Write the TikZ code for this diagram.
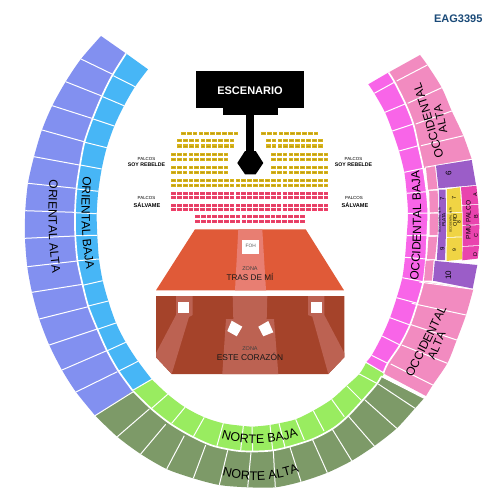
\documentclass[tikz,border=0pt]{standalone}
\usepackage{fontspec}
\setmainfont{Liberation Sans}
\usetikzlibrary{decorations.text}
\definecolor{altaL}{HTML}{8290F0}
\definecolor{bajaL}{HTML}{47B6F6}
\definecolor{altaN}{HTML}{7D9A68}
\definecolor{bajaN}{HTML}{99EC60}
\definecolor{bajaR}{HTML}{F865E8}
\definecolor{altaR}{HTML}{F28BC0}
\definecolor{purp}{HTML}{9B5DC8}
\definecolor{yell}{HTML}{F0D444}
\definecolor{mage}{HTML}{E944AE}
\definecolor{gold}{HTML}{D8B41A}
\definecolor{goldd}{HTML}{B89A20}
\definecolor{rosa}{HTML}{F03E68}
\definecolor{rosad}{HTML}{CF4A66}
\definecolor{tras}{HTML}{E05A38}
\definecolor{trasl}{HTML}{E87E72}
\definecolor{este}{HTML}{A5432A}
\definecolor{estel}{HTML}{BC6252}
\definecolor{navy}{HTML}{1A4A78}
\tikzset{
  sepline/.style={draw=white,line width=1pt},
  bandsep/.style={draw=white,line width=1.7pt},
  curvelbl/.style={decorate,decoration={text along path,text align=center,text={#1}}},
  tinylbl/.style={inner sep=0pt,rotate=90,text=black},
}
\newcommand{\seatrow}[5]{% x0 x1 n y col
  \pgfmathsetmacro{\pitch}{(#2-#1)/#3}
  \foreach \k in {1,...,#3}{
    \pgfmathsetmacro{\xa}{#1+(\k-1)*\pitch}
    \fill[#5] (\xa,#4-1.6) rectangle ++(\pitch-1.1,3.2);
    \fill[#5d] (\xa+1,#4-0.5) rectangle ++(\pitch-3.1,1);
  }
}
\begin{document}
\begin{tikzpicture}[x=1pt,y=-1pt]
\useasboundingbox (0,0) rectangle (500,500);
\fill[white] (0,0) rectangle (500,500);

% ---- left bowl
\fill[altaL] plot[smooth] coordinates {(101,36) (81,59) (65.7,81.7) (52.3,105.7) (42,130) (34,156.7) (28,183.3) (25.3,210.7) (25,238.3) (27.3,266.7) (32,292.3) (39.3,319) (49.3,345) (62,370) (76,392) (95.3,415.7)}
  -- plot[smooth] coordinates {(133,391) (118.5,371) (107,350.7) (97.3,329) (88.3,306.5) (82.7,285) (77.5,261) (75.3,236) (75,212.5) (76.5,188.5) (80,165) (84.5,142) (92.5,118.7) (102,96) (112.5,75) (126,53.5)} -- cycle;
\fill[bajaL] plot[smooth] coordinates {(126,53.5) (112.5,75) (102,96) (92.5,118.7) (84.5,142) (80,165) (76.5,188.5) (75,212.5) (75.3,236) (77.5,261) (82.7,285) (88.3,306.5) (97.3,329) (107,350.7) (118.5,371) (133,391)}
  -- plot[smooth] coordinates {(151.7,379.3) (138,361.3) (125.7,342.3) (116,323) (108.3,301) (102.7,280.7) (99,259) (97.3,235.3) (96.7,213.7) (98.3,191.3) (101.7,169) (106.7,147.7) (114.3,126) (124,105.7) (135,86.7) (148,69.3)} -- cycle;
\foreach \xa/\ya/\xb/\yb in {81/59/112/74,65.7/81.7/101/95.7,52.3/105.7/91.7/118.3,42/130/84/141.7,34/156.7/79.3/165,28/183.3/75.7/188.3,25.3/210.7/74.3/212.3,25/238.3/75/236,27.3/266.7/77.3/261,32/292.3/82.7/284.3,39.3/319/88.3/306.7,49.3/345/97.3/329,62/370/106.7/350.7,76/392/117.3/371.7}
  \draw[sepline] (\xa,\ya) -- (\xb,\yb);
\foreach \xa/\ya/\xb/\yb in {113.3/75.7/135/86.7,102.7/96.7/124/105.7,93.3/119/114.3/126,85/142.3/106.7/147.7,80.3/165/101.7/169,77/189/98.3/191.3,75.3/212.7/96.7/213.7,75.7/235.7/97.3/235.3,77.7/260.7/99/259,82.7/285.3/102.7/280.7,88.3/306/108.3/301,97.3/329.3/116/323,107.3/350.7/125.7/342.3,119.3/370.7/138/361.3}
  \draw[sepline] (\xa,\ya) -- (\xb,\yb);
\draw[bandsep] plot[smooth] coordinates {(126,53.5) (112.5,75) (102,96) (92.5,118.7) (84.5,142) (80,165) (76.5,188.5) (75,212.5) (75.3,236) (77.5,261) (82.7,285) (88.3,306.5) (97.3,329) (107,350.7) (118.5,371) (133,391)};

% ---- north bowl
\fill[altaN] plot[smooth] coordinates {(95.3,415.7) (117.3,436.7) (140.7,454) (166.7,469) (193.3,478.3) (219.3,485) (247.7,487.3) (275.3,487.3) (301,481.7) (327.3,472.7) (351.7,460.7) (374.3,446) (396.7,428.3) (415,408.3) (424,398.3)}
  -- plot[smooth] coordinates {(381,377) (376,385) (362,401) (347,417) (333,428.5) (313,439) (290,446.5) (272,450.5) (252,451.5) (235,450.5) (212,445.5) (191,436) (170,423.5) (151,408.5) (133,391)} -- cycle;
\fill[bajaN] plot[smooth] coordinates {(133,391) (151,408.5) (170,423.5) (191,436) (212,445.5) (235,450.5) (252,451.5) (272,450.5) (290,446.5) (313,439) (333,428.5) (347,417) (362,401) (376,385) (384,373.5)}
  -- plot[smooth] coordinates {(366,363) (359.3,374) (346.7,385.7) (331.7,399.3) (313.3,410.7) (295.7,419.3) (279,423.3) (270,425) (252,426.7) (243.3,426) (223.3,423.3) (204.3,417.3) (185,407.3) (167.7,394.3) (151.7,379.3)} -- cycle;
\foreach \xa/\ya/\xb/\yb in {133.3/391.7/95/415.7,149.3/409/117.3/436.7,165.7/424.3/140.7/454,184.3/435.7/166.7/469,205.7/445/193.3/478.3,227.7/450.3/219.3/485,251/452.3/247.7/487.3,273.3/450/275.3/487.3,290/447.3/301/481.7,312.7/440/327.3/472.7,331.7/428.3/351.7/460.7,348.3/416/374.3/446,365/400/396.7/428.3,378.3/384/415/408.3,380.7/376/424/398.3}
  \draw[sepline] (\xa,\ya) -- (\xb,\yb);
\foreach \xa/\ya/\xb/\yb in {151.7/408.3/167.7/394.3,171.7/423.3/185/407.3,193.3/436.7/204.3/417.3,216.7/446.7/223.3/423.3,240.7/450/243.3/426,252.7/451/252/426.7,272.7/450/270/425,285/447.3/279/423.3,304.3/440/295.7/419.3,324/431/313.3/410.7,344.3/416.7/331.7/399.3,361/400/346.7/385.7,376.7/383.3/359.3/374}
  \draw[sepline] (\xa,\ya) -- (\xb,\yb);
\draw[bandsep] plot[smooth] coordinates {(133,391) (151,408.5) (170,423.5) (191,436) (212,445.5) (235,450.5) (252,451.5) (272,450.5) (290,446.5) (313,439) (333,428.5) (347,417) (362,401) (376,385) (381,377)};
\draw[sepline] (133.3,390) -- (151.7,379.3);

% ---- right bowl
\fill[bajaR] plot[smooth] coordinates {(368.3,84.3) (374.3,93.3) (385,112.3) (392.3,131) (399,151) (404.3,172.3) (406.7,193.3) (408,214) (406.7,235.7) (405,257.3) (402.3,277.7) (396.7,297.7) (390,317.7) (382,336) (371.7,355.3) (366,362.3)}
  -- plot[smooth] coordinates {(383.3,373.3) (387.7,363.3) (400,345) (410,325) (417.3,303.3) (423.3,281.7) (426,259) (427.3,235) (428.3,213) (426.7,191.7) (423.3,168.3) (418.3,145.7) (413.3,124) (405.5,104) (394.5,82) (388.5,72.5)} -- cycle;
\fill[altaR] plot[smooth] coordinates {(388.5,72.5) (394.5,82) (405.5,104) (413.3,124) (418.3,145.7) (423.3,168.3)}
  -- plot[smooth] coordinates {(471.7,159.3) (463.3,135.7) (451.7,111) (441.7,87.7) (427.3,65) (420,55)} -- cycle;
\fill[altaR] plot[smooth] coordinates {(423.3,281.7) (417.3,303.3) (410,325) (400,345) (387.7,363.3) (383.3,373.3)}
  -- plot[smooth] coordinates {(426,396) (432.7,385) (447.3,363.3) (456.7,340) (466,315) (473.3,289.3)} -- cycle;
\foreach \xa/\ya/\xb/\yb in {374.3/93.3/394.3/82.3,385/112.3/405/104,392.3/131/413.3/124,399/151/418.3/145.7,404.3/172.3/423.3/168.3,406.7/193.3/426.7/191.7,408/213.5/428.3/213,406.7/235.7/427.3/235,405/257.3/426/259,402.3/277.7/423.3/281.7,396.7/297.7/417.3/303.3,390/317.7/410/325,382/336/400/345,371.7/355.3/387.7/363.3}
  \draw[sepline] (\xa,\ya) -- (\xb,\yb);
\foreach \xa/\ya/\xb/\yb in {396.7/81/427.3/65,407.7/103.3/441.7/87.7,415.7/124/451.7/111,421/145.7/463.3/135.7,425/167.3/471.7/159.3,419.3/282/473.3/289.3,411.7/303.3/466/315,410/324.3/456.7/340,401.7/345/447.3/363.3,390.7/364/432.7/385}
  \draw[sepline] (\xa,\ya) -- (\xb,\yb);
\draw[bandsep] plot[smooth] coordinates {(388.5,72.5) (394.5,82) (405.5,104) (413.3,124) (418.3,145.7) (423.3,168.3) (426.7,191.7) (428.3,213) (427.3,235) (426,259) (423.3,281.7) (417.3,303.3) (410,325) (400,345) (387.7,363.3) (383.3,373.3)};
\draw[sepline] (366,362.3) -- (384.5,373.3);

% ---- west block, sections
\fill[altaR] (426,168) -- (435,166.3) -- (437.5,188.8) -- (428.2,189.7) -- cycle;
\fill[altaR] (429.2,191) -- (437.7,190.5) -- (438,212) -- (429.8,212.5) -- cycle;
\fill[altaR] (429.8,213.8) -- (438,213.5) -- (437.7,235) -- (429.6,235) -- cycle;
\fill[altaR] (428.5,237) -- (437.3,236.7) -- (435,259) -- (427,259) -- cycle;
\fill[altaR] (425.8,260.8) -- (433.6,260.2) -- (432,280.7) -- (424,280.7) -- cycle;
\fill[purp] (436,165.7) -- (471.7,160) -- (476,185) -- (438.5,188.3) -- cycle;
\fill[purp] (434.8,260.9) -- (477.3,265) -- (472.7,288.5) -- (433,280.7) -- cycle;
\fill[purp] (438.8,189.6) -- (445.6,189.6) -- (446.2,226) -- (445,260) -- (436.8,260) -- (439,226) -- cycle;
\fill[yell] (446.8,189.3) -- (460,187.3) -- (461.6,212) -- (447.2,212.6) -- cycle;
\fill[yell] (447.2,213.4) -- (461.8,212.8) -- (461.8,236.5) -- (446.9,237) -- cycle;
\fill[yell] (446.9,237.8) -- (461.8,237.3) -- (462.3,259.3) -- (446.5,261) -- cycle;
\fill[mage] (461,187.3) -- (476.4,185.8) -- (478.3,204) -- (462.3,205) -- cycle;
\fill[mage] (462.4,205.8) -- (478.3,204.8) -- (479.3,224.3) -- (462.7,225) -- cycle;
\fill[mage] (462.7,225.8) -- (479.3,225.1) -- (479,245.2) -- (462.6,246) -- cycle;
\fill[mage] (462.6,246.8) -- (479,246) -- (477.7,258.6) -- (462.3,260.3) -- cycle;

\node[tinylbl,font=\fontsize{8}{8}\selectfont] (s6) at (448.5,173) {6};
\node[tinylbl,font=\fontsize{8}{8}\selectfont] (s10) at (448.3,275) {10};
\node[tinylbl,font=\fontsize{6}{6}\selectfont] (s7a) at (442.3,199.3) {7};
\node[tinylbl,font=\fontsize{6}{6}\selectfont] (s9a) at (442.3,249.3) {9};
\node[tinylbl,font=\fontsize{2.8}{3}\selectfont] (spt) at (439.7,220) {OCCIDENTAL ALTA};
\node[tinylbl,font=\fontsize{4.6}{5}\selectfont] (spl) at (443.7,220) {PLATA};
\node[tinylbl,font=\fontsize{5.5}{6}\selectfont] (s7b) at (454,197.7) {7};
\node[tinylbl,font=\fontsize{5}{5}\selectfont] (s9b) at (454.3,250) {9};
\node[tinylbl,font=\fontsize{2.8}{3}\selectfont] (sot) at (450.7,220) {OCCIDENTAL ALTA};
\node[tinylbl,font=\fontsize{5.5}{6}\selectfont] (sor) at (455,220) {ORO};
\node[tinylbl,font=\fontsize{5}{5}\selectfont] (s8) at (459,222) {8};
\node[tinylbl,font=\fontsize{6.6}{7}\selectfont] (pmu) at (468.3,220) {PMU PALCO};
\node[tinylbl,font=\fontsize{5.5}{6}\selectfont] (pa) at (475.3,195) {A};
\node[tinylbl,font=\fontsize{5.5}{6}\selectfont] (pb) at (476,217) {B};
\node[tinylbl,font=\fontsize{5.5}{6}\selectfont] (pc) at (476,236) {C};
\node[tinylbl,font=\fontsize{5.5}{6}\selectfont] (pd) at (475.3,255) {D};

% ---- stage
\fill[black] (196,70.7) rectangle (304.3,107.7);
\fill[black] (222.7,107.7) rectangle (277.7,115);
\fill[black] (245.7,115) rectangle (254.3,152);
\fill[black] (237.3,163) -- (245,151) -- (255.7,151) -- (263.3,163) -- (255.7,174.3) -- (245,174.3) -- cycle;
\node[text=white,font=\bfseries\fontsize{11}{12}\selectfont,inner sep=0pt] (esc) at (250,90.5) {ESCENARIO};

% ---- seats
\seatrow{181}{239.5}{10}{133.3}{gold}
\seatrow{261}{319.5}{10}{133.3}{gold}
\seatrow{177.3}{235.5}{10}{140.7}{gold}
\seatrow{177.3}{235.5}{10}{146}{gold}
\seatrow{266}{323.8}{10}{140.7}{gold}
\seatrow{266}{323.8}{10}{146}{gold}
\seatrow{171}{229.5}{10}{154.7}{gold}
\seatrow{171}{229.5}{10}{159.3}{gold}
\seatrow{171}{229.5}{10}{167.3}{gold}
\seatrow{171}{229.5}{10}{172.7}{gold}
\seatrow{271}{329.5}{10}{154.7}{gold}
\seatrow{271}{329.5}{10}{159.3}{gold}
\seatrow{271}{329.5}{10}{167.3}{gold}
\seatrow{271}{329.5}{10}{172.7}{gold}
\seatrow{171}{329.5}{27}{180.7}{gold}
\seatrow{171}{329.5}{27}{185.3}{gold}
\seatrow{171}{329.5}{27}{193.3}{rosa}
\seatrow{171}{329.5}{27}{197.8}{rosa}
\seatrow{171}{329.5}{27}{205.3}{rosa}
\seatrow{171}{329.5}{27}{209.7}{rosa}
\seatrow{195}{305.6}{19}{216.7}{rosa}
\seatrow{195}{305.6}{19}{221.3}{rosa}

\node[font=\fontsize{4.4}{5}\selectfont,inner sep=0pt] (pl1) at (146.5,159) {PALCOS};
\node[font=\bfseries\fontsize{5.2}{6}\selectfont,inner sep=0pt] (pl2) at (146.5,164.7) {SOY REBELDE};
\node[font=\fontsize{4.4}{5}\selectfont,inner sep=0pt] (pl3) at (146.5,198) {PALCOS};
\node[font=\bfseries\fontsize{5.6}{6}\selectfont,inner sep=0pt] (pl4) at (147,205) {SÁLVAME};
\node[font=\fontsize{4.4}{5}\selectfont,inner sep=0pt] (pr1) at (353.5,159) {PALCOS};
\node[font=\bfseries\fontsize{5.2}{6}\selectfont,inner sep=0pt] (pr2) at (353.5,164.7) {SOY REBELDE};
\node[font=\fontsize{4.4}{5}\selectfont,inner sep=0pt] (pr3) at (354,198) {PALCOS};
\node[font=\bfseries\fontsize{5.6}{6}\selectfont,inner sep=0pt] (pr4) at (355,205) {SÁLVAME};

% ---- zona tras de mi
\fill[tras] (195,229.3) -- (305.7,229.3) -- (344,290.3) -- (156,290.3) -- cycle;
\fill[trasl] (238.3,229.3) -- (262.3,229.3) -- (266,290.3) -- (235,290.3) -- cycle;
\fill[white] (242.3,240) rectangle (259,254);
\node[text=black!65,font=\fontsize{4.8}{5}\selectfont,inner sep=0pt] (foh) at (250.7,246) {FOH};
\node[text=black!75,font=\fontsize{5.5}{6}\selectfont,inner sep=0pt] (z1) at (250,268.5) {ZONA};
\node[text=black!90,font=\fontsize{8.2}{9}\selectfont,inner sep=0pt] (z2) at (250,276.7) {TRAS DE MÍ};

% ---- zona este corazon
\fill[este] (156,296) -- (344.3,296) -- (344.3,357.3) -- (328.3,374) -- (171.7,374) -- (156,357.3) -- cycle;
\fill[estel] (232.7,296) -- (267.3,296) -- (266.7,319) -- (274,319) -- (278.3,374) -- (222.3,374) -- (226,319) -- (233.3,319) -- cycle;
\fill[estel] (176,296) -- (192.7,296) -- (192.7,315) -- (189,317) -- (171.7,374) -- (156,357.3) -- (156,353) -- (176,315) -- cycle;
\fill[estel] (308,296) -- (324.3,296) -- (324.3,315) -- (344.3,353) -- (344.3,357.3) -- (328.3,374) -- (312.3,316.7) -- (308,315) -- cycle;
\fill[white] (178,302.3) rectangle (189,313);
\fill[white] (311,302.3) rectangle (322,313);
\fill[white] (231.7,320.7) -- (242.3,326.7) -- (236.7,336.3) -- (227.3,331) -- cycle;
\fill[white] (258.3,326.7) -- (268.3,321) -- (273.3,332.3) -- (263.3,336.3) -- cycle;
\node[text=black!75,font=\fontsize{5.5}{6}\selectfont,inner sep=0pt] (z3) at (250,348.5) {ZONA};
\node[text=black!90,font=\fontsize{8.4}{9}\selectfont,inner sep=0pt] (z4) at (250,356.5) {ESTE CORAZÓN};

% ---- title
\node[text=navy,font=\bfseries\fontsize{11}{11}\selectfont,inner sep=0pt] (ttl) at (458.3,19) {EAG3395};

% ---- curved labels
\path[curvelbl={|\fontsize{12}{12}\selectfont|ORIENTAL ALTA}] (50.5,170) .. controls (47.5,205) and (47.5,245) .. (54,283);
\path[curvelbl={|\fontsize{12}{12}\selectfont|ORIENTAL BAJA}] (84.5,165) .. controls (80,195) and (80,245) .. (89,281);
\path[curvelbl={|\fontsize{12}{12}\selectfont|OCCIDENTAL BAJA}] (416.5,293) .. controls (422,255) and (423,200) .. (418,158);
\path[curvelbl={|\fontsize{12}{12}\selectfont|OCCIDENTAL}] (447,165) .. controls (436,135) and (430,105) .. (417,74);
\path[curvelbl={|\fontsize{11.5}{12}\selectfont|ALTA}] (449.5,145) .. controls (447,130) and (443.5,112) .. (437.5,92);
\path[curvelbl={|\fontsize{12}{12}\selectfont|OCCIDENTAL}] (408,386) .. controls (420,363) and (436,331) .. (451,300);
\path[curvelbl={|\fontsize{11.5}{12}\selectfont|ALTA}] (429,372) .. controls (436,357) and (443,341) .. (451,322);
\path[curvelbl={|\fontsize{12.5}{13}\selectfont|NORTE BAJA}] (209,434) .. controls (235,446) and (278,448) .. (310,431);
\path[curvelbl={|\fontsize{12.5}{13}\selectfont|NORTE ALTA}] (211,472) .. controls (238,483) and (278,484) .. (310,467);
\end{tikzpicture}
\end{document}
